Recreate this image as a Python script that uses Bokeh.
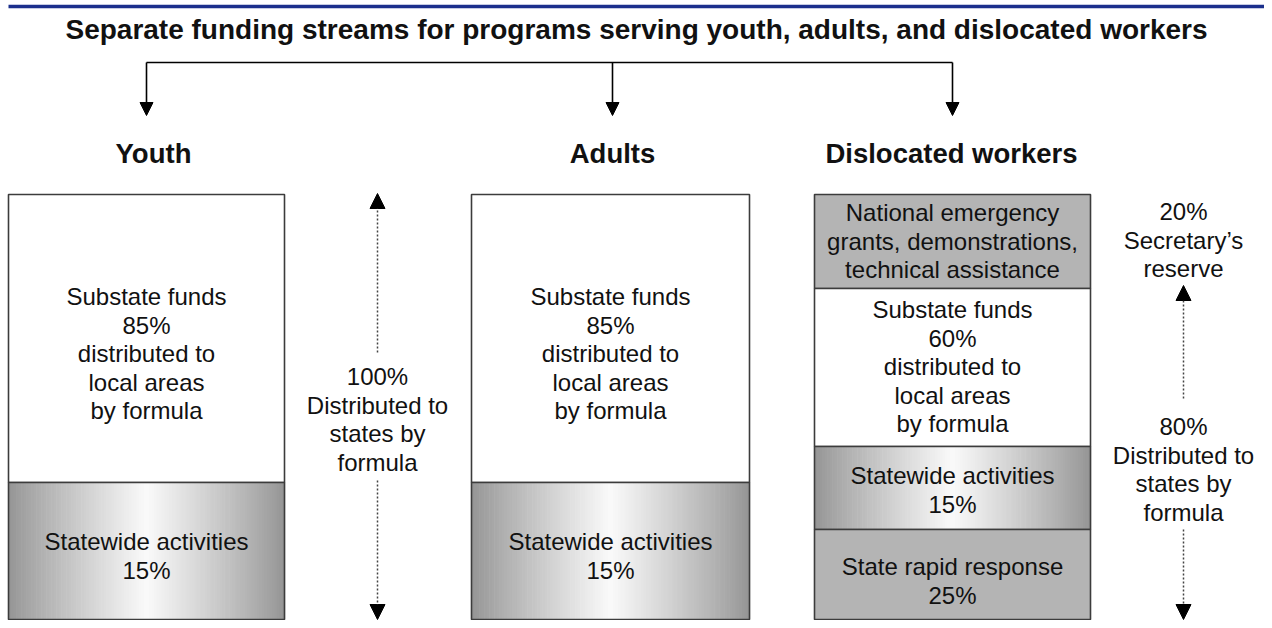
from bokeh.plotting import figure
from bokeh.models import Range1d, Arrow, NormalHead
from bokeh.core.properties import value
from bokeh.embed import file_html
from bokeh.resources import INLINE

# ---------------- data ----------------
title_text = "Separate funding streams for programs serving youth, adults, and dislocated workers"
stream_names = ["Youth", "Adults", "Dislocated workers"]

youth_labels = [["Substate funds", "85%", "distributed to", "local areas", "by formula"],
                ["Statewide activities", "15%"]]
adult_labels = [["Substate funds", "85%", "distributed to", "local areas", "by formula"],
                ["Statewide activities", "15%"]]
dw_labels = [["National emergency", "grants, demonstrations,", "technical assistance"],
             ["Substate funds", "60%", "distributed to", "local areas", "by formula"],
             ["Statewide activities", "15%"],
             ["State rapid response", "25%"]]
youth_side_label = ["100%", "Distributed to", "states by", "formula"]
dw_reserve_label = ["20%", "Secretary\u2019s", "reserve"]
dw_state_label = ["80%", "Distributed to", "states by", "formula"]

# ---------------- layout / style ----------------
FONT = value("Liberation Sans")
LINE = 28.5
W, H = 1264, 620
box_x = [(8, 284), (471, 749), (814, 1090)]
centers = [146, 612, 952]
head_x = [153, 612, 951]
youth_bounds = [194, 482, 619]
dw_bounds = [194, 288, 446, 529, 619]
youth_styles = ["white", "grad"]
dw_styles = ["gray", "white", "grad", "gray"]
youth_text_y = [296, 541]
dw_text_y = [212, 309, 475, 566]

p = figure(width=W, height=H, x_range=Range1d(0, W), y_range=Range1d(H, 0),
           output_backend="svg", toolbar_location=None, min_border=0)
p.axis.visible = False
p.grid.visible = False
p.outline_line_color = None
p.background_fill_color = "white"
p.border_fill_color = "white"

# top blue rule
p.segment(x0=[8], y0=[6], x1=[1264], y1=[6], line_color="#1b2f8c", line_width=3.5)

# title
p.text(x=[636], y=[29], text=[title_text], text_align="center", text_baseline="middle",
       text_font=FONT, text_font_size="28px", text_font_style="bold", text_color="#111111")

# connector
p.segment(x0=[centers[0]], y0=[62], x1=[centers[2]], y1=[62], line_color="black", line_width=1.6)
for cx in centers:
    p.add_layout(Arrow(x_start=cx, y_start=62, x_end=cx, y_end=115, line_width=1.6, line_color="black",
                       end=NormalHead(size=13, fill_color="black", line_color="black")))

# headings
p.text(x=head_x, y=[153] * 3, text=stream_names, text_align="center", text_baseline="middle",
       text_font=FONT, text_font_size="27.5px", text_font_style="bold", text_color="#111111")


def gray_hex(g):
    g = int(round(max(0, min(255, g))))
    return "#%02x%02x%02x" % (g, g, g)


def draw_section(x0, x1, top, bottom, style):
    if style == "white":
        p.quad(left=[x0], right=[x1], top=[top], bottom=[bottom], fill_color="white", line_color=None)
    elif style == "gray":
        p.quad(left=[x0], right=[x1], top=[top], bottom=[bottom], fill_color="#b4b4b4", line_color=None)
    else:
        n = 110
        w = (x1 - x0) / n
        lefts, rights, cols = [], [], []
        for i in range(n):
            t = ((i + 0.5) / n) * 2 - 1
            g = 148 + (250 - 148) * (1 - abs(t)) ** 0.9
            lefts.append(x0 + i * w)
            rights.append(x0 + (i + 1) * w + 0.6)
            cols.append(gray_hex(g))
        p.quad(left=lefts, right=rights, top=[top] * n, bottom=[bottom] * n,
               fill_color=cols, line_color=None)
    p.quad(left=[x0], right=[x1], top=[top], bottom=[bottom], fill_color=None,
           line_color="#3c3c3c", line_width=1.6)


def draw_lines(cx, y0, lines):
    ys = [y0 + i * LINE for i in range(len(lines))]
    p.text(x=[cx] * len(lines), y=ys, text=lines, text_align="center", text_baseline="middle",
           text_font=FONT, text_font_size="24px", text_color="#111111")


# Youth and Adults boxes
for (x0, x1), labels in zip(box_x[:2], [youth_labels, adult_labels]):
    for k in range(2):
        draw_section(x0, x1, youth_bounds[k], youth_bounds[k + 1], youth_styles[k])
    cx = (x0 + x1) / 2
    for k in range(2):
        draw_lines(cx, youth_text_y[k], labels[k])

# Dislocated workers box
x0, x1 = box_x[2]
for k in range(4):
    draw_section(x0, x1, dw_bounds[k], dw_bounds[k + 1], dw_styles[k])
for k in range(4):
    draw_lines((x0 + x1) / 2, dw_text_y[k], dw_labels[k])


# dotted arrows
def dotted_arrow(x, y_from, y_to):
    p.add_layout(Arrow(x_start=x, y_start=y_from, x_end=x, y_end=y_to,
                       line_color="#444444", line_width=1.5, line_dash="2 2",
                       end=NormalHead(size=15, fill_color="black", line_color="black", line_width=1)))


# Youth side
dotted_arrow(377, 352, 193)
dotted_arrow(377, 480, 619)
draw_lines(377, 376, youth_side_label)

# Dislocated workers side
draw_lines(1183, 211, dw_reserve_label)
dotted_arrow(1183, 398, 285)
draw_lines(1183, 426, dw_state_label)
dotted_arrow(1183, 529, 619)

open("out.html", "w").write(file_html(p, INLINE))
